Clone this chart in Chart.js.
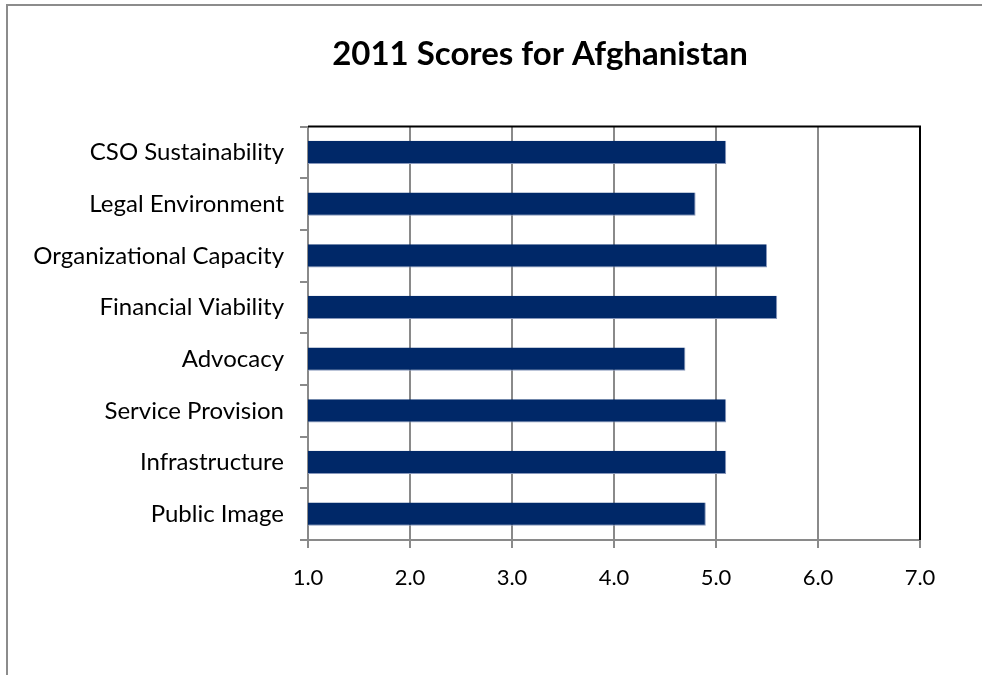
<!DOCTYPE html>
<html>
<head>
<meta charset="utf-8">
<title>2011 Scores for Afghanistan</title>
<script src="https://cdn.jsdelivr.net/npm/chart.js@4/dist/chart.umd.min.js"></script>
<style>
  html, body { margin: 0; padding: 0; background: #fff; }
  #wrap { position: relative; width: 982px; height: 675px; }
</style>
</head>
<body>
<div id="wrap"><canvas id="canvas" width="982" height="675"></canvas></div>
<script>
var categories = [
    'CSO Sustainability',
    'Legal Environment',
    'Organizational Capacity',
    'Financial Viability',
    'Advocacy',
    'Service Provision',
    'Infrastructure',
    'Public Image'
];
var scores = [5.1, 4.8, 5.5, 5.6, 4.7, 5.1, 5.1, 4.9];
var xTicks = [1, 2, 3, 4, 5, 6, 7];

var labelFont = 'Lato, "Open Sans", sans-serif';

// outer gray frame + black top/right edge of the plot
var framePlugin = {
    id: 'frame',
    afterLayout: function(chart) {
        // the title sits a bit right of the canvas centre
        chart.titleBlock.left = 160;
        chart.titleBlock.right = chart.chartArea.right;
    },
    beforeDraw: function(chart) {
        var c = chart.ctx;
        c.save();
        c.fillStyle = '#ffffff';
        c.fillRect(0, 0, chart.width, chart.height);
        c.strokeStyle = '#8c8c8c';
        c.lineWidth = 2;
        c.beginPath();
        c.moveTo(7, chart.height);
        c.lineTo(7, 5);
        c.lineTo(chart.width, 5);
        c.stroke();
        c.restore();
    },
    afterDatasetsDraw: function(chart) {
        var a = chart.chartArea;
        var c = chart.ctx;
        c.save();
        c.strokeStyle = '#000000';
        c.lineWidth = 2;
        c.beginPath();
        c.moveTo(a.left, a.top);
        c.lineTo(a.right, a.top);
        c.lineTo(a.right, a.bottom);
        c.stroke();
        c.restore();
    }
};

window.onload = function() {
    var ctx = document.getElementById('canvas').getContext('2d');
    window.chart = new Chart(ctx, {
        type: 'bar',
        data: {
            labels: categories,
            datasets: [{
                data: scores,
                backgroundColor: '#002868',
                borderColor: '#8797bb',
                borderWidth: { right: 1, bottom: 1, top: 0, left: 0 },
                borderSkipped: 'start',
                categoryPercentage: 1.0,
                barPercentage: 0.45
            }]
        },
        options: {
            indexAxis: 'y',
            responsive: false,
            animation: false,
            layout: { padding: { left: 10, right: 62, top: 0, bottom: 0 } },
            plugins: {
                legend: { display: false },
                tooltip: { enabled: false },
                title: {
                    display: true,
                    text: '2011 Scores for Afghanistan',
                    color: '#000',
                    font: { family: labelFont, size: 33, weight: 'bold' },
                    padding: { top: 35, bottom: 52 }
                }
            },
            scales: {
                x: {
                    min: 1,
                    max: 7,
                    afterBuildTicks: function(scale) {
                        scale.ticks = xTicks.map(function(v) { return { value: v }; });
                    },
                    afterFit: function(scale) { scale.height = 135; },
                    ticks: {
                        color: '#000',
                        font: { family: labelFont, size: 22 },
                        padding: 17,
                        callback: function(v) { return Number(v).toFixed(1); }
                    },
                    grid: { color: '#8a8a8a', lineWidth: 2, tickLength: 8 },
                    border: { color: '#8a8a8a', width: 2 }
                },
                y: {
                    afterFit: function(scale) { scale.width = 298; },
                    ticks: {
                        color: '#000',
                        font: { family: labelFont, size: 24 },
                        padding: 16
                    },
                    grid: { color: '#8a8a8a', lineWidth: 2, tickLength: 8, drawOnChartArea: false, offset: true },
                    border: { color: '#8a8a8a', width: 2 }
                }
            }
        },
        plugins: [framePlugin]
    });
};
</script>
</body>
</html>
